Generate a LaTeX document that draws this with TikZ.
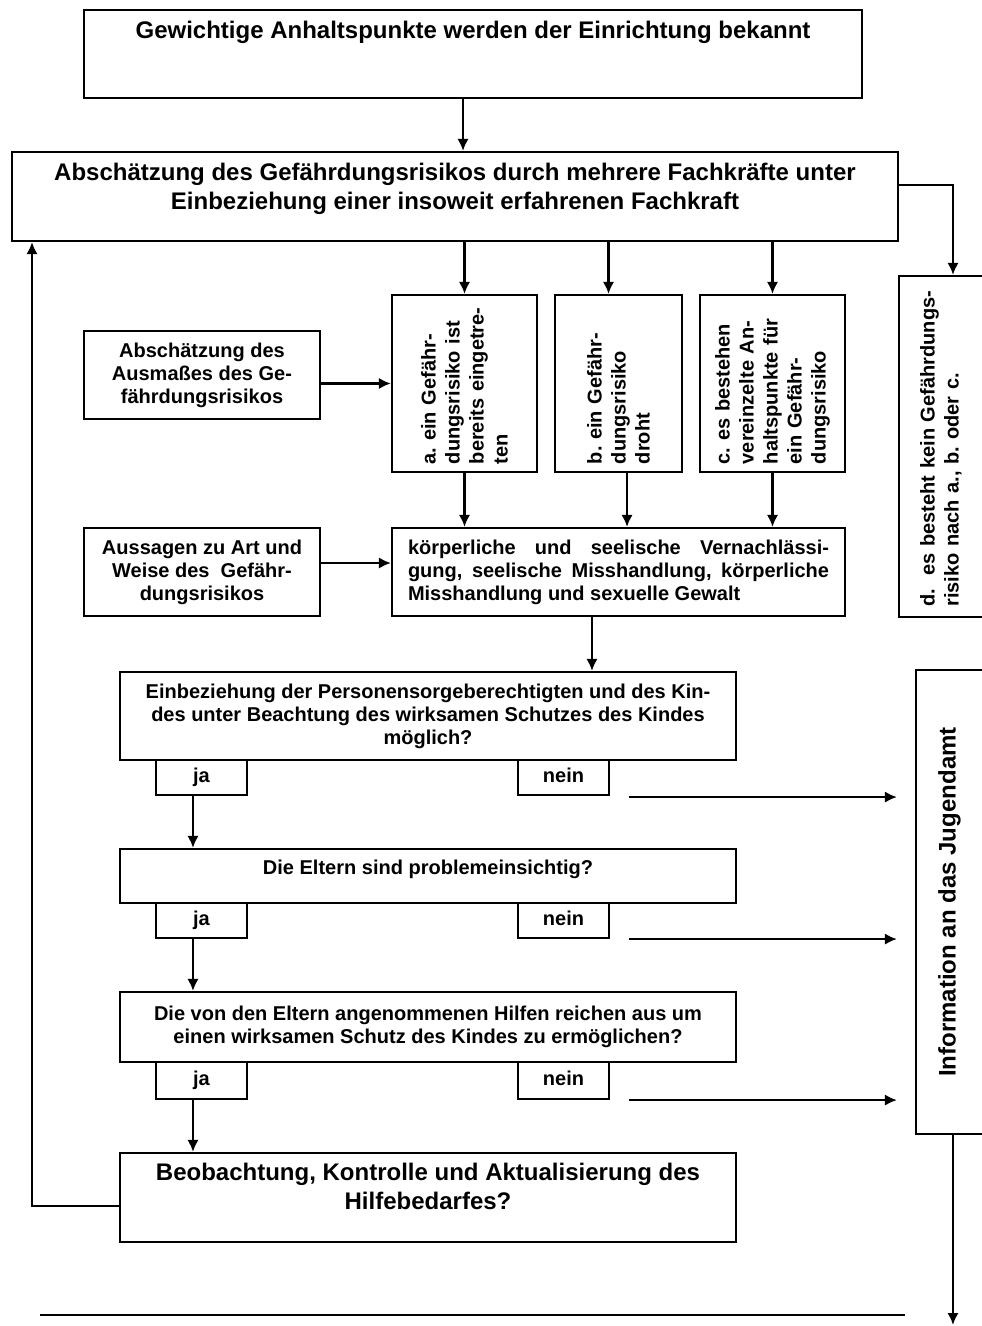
\documentclass[tikz,border=0pt]{standalone}
\usepackage{fontspec}
\setmainfont{Liberation Sans}
\usetikzlibrary{arrows.meta}
\frenchspacing
\newcommand{\bigfont}{\fontsize{18}{21.75}\selectfont\bfseries\hyphenpenalty=10000}
\newcommand{\midfont}{\fontsize{15}{17.25}\selectfont\bfseries\hyphenpenalty=10000}
\newcommand{\rotfont}{\fontsize{15}{18}\selectfont\bfseries\hyphenpenalty=10000}
\begin{document}
\begin{tikzpicture}[x=0.75pt,y=0.75pt]
\tikzstyle{every node}+=[inner sep=0pt]
\tikzstyle{box}=[draw=black, line width=1.6pt, align=center, font=\midfont]
\tikzstyle{vbox}=[box, rotate=90, align=left, font=\rotfont]
\tikzstyle{answer}=[box, minimum width=68.25pt, minimum height=26.25pt, text height=11pt, text depth=3.5pt]
\tikzstyle{arr}=[draw=black, line width=2pt, -{Latex[length=9pt,width=8.5pt]}]
\useasboundingbox (0,0) rectangle (981,-1326);
\node [box, font=\bigfont, minimum width=583.5pt, minimum height=66pt] (start) at (473,-54) {Gewichtige Anhaltspunkte werden der Einrichtung bekannt\\[15pt]\mbox{}};
\node [box, font=\bigfont, minimum width=664.5pt, minimum height=66.75pt] (risk) at (455,-196.5) {Absch\"atzung des Gef\"ahrdungsrisikos durch mehrere Fachkr\"afte unter\\Einbeziehung einer insoweit erfahrenen Fachkraft\\[-5.75pt]\mbox{}};
\node [vbox, minimum width=132.75pt, minimum height=108.75pt, text width=121pt] (abox) at (464.5,-383.5) {a. ein Gef\"ahr-\\dungsrisiko ist\\bereits eingetre-\\ten};
\node [vbox, minimum width=132.75pt, minimum height=95.25pt, text width=121pt] (bbox) at (618.5,-383.5) {b. ein Gef\"ahr-\\dungsrisiko\\droht};
\node [vbox, minimum width=132.75pt, minimum height=108.75pt, text width=121pt] (cbox) at (772.5,-383.5) {c. es bestehen\\vereinzelte An-\\haltspunkte f\"ur\\ein Gef\"ahr-\\dungsrisiko};
\node [vbox, minimum width=255.75pt, minimum height=63pt, text width=240pt] (dbox) at (941,-446.5) {d.\ \ es besteht kein Gef\"ahrdungs-\\risiko nach a., b. oder c.};
\node [box, minimum width=177pt, minimum height=66pt] (ausmass) at (202,-375) {Absch\"atzung des\\Ausma\ss es des Ge-\\f\"ahrdungsrisikos};
\node [box, minimum width=177pt, minimum height=66pt] (art) at (202,-572) {Aussagen zu Art und\\Weise des\ \ Gef\"ahr-\\dungsrisikos};
\node [box, align=justify, text width=315.75pt, minimum width=339.75pt, minimum height=66pt] (kv) at (618.5,-572) {k\"orperliche und seelische Vernachl\"assi-\linebreak gung, seelische Misshandlung, k\"orperliche\linebreak Misshandlung und sexuelle Gewalt};
\node [box, minimum width=462pt, minimum height=66pt] (einb) at (428,-716) {Einbeziehung der Personensorgeberechtigten und des Kin-\\des unter Beachtung des wirksamen Schutzes des Kindes\\m\"oglich?};
\node [answer] (ja1) at (201.5,-777.5) {ja};
\node [answer] (nein1) at (563.5,-777.5) {nein};
\node [box, minimum width=462pt, minimum height=40.5pt] (eltern) at (428,-876) {Die Eltern sind problemeinsichtig?\\[-4.25pt]\mbox{}};
\node [answer] (ja2) at (201.5,-920.5) {ja};
\node [answer] (nein2) at (563.5,-920.5) {nein};
\node [box, minimum width=462pt, minimum height=52.5pt] (hilfen) at (428,-1027) {Die von den Eltern angenommenen Hilfen reichen aus um\\einen wirksamen Schutz des Kindes zu erm\"oglichen?};
\node [answer, minimum height=27.75pt] (ja3) at (201.5,-1080.5) {ja};
\node [answer, minimum height=27.75pt] (nein3) at (563.5,-1080.5) {nein};
\node [box, font=\bigfont, minimum width=462pt, minimum height=66.75pt] (beob) at (428,-1197.5) {Beobachtung, Kontrolle und Aktualisierung des\\Hilfebedarfes?\\[-5pt]\mbox{}};
\node [box, rotate=90, font=\bigfont, minimum width=348pt, minimum height=50.25pt] (info) at (949.5,-902) {Information an das Jugendamt};
\coordinate (s1) at ([xshift=-7.5pt]start.south);
\draw [arr] (s1) -- (s1 |- risk.north);
\draw [arr] (risk.south -| abox.east) -- (abox.east);
\coordinate (bin) at ([xshift=-7.5pt]bbox.east);
\draw [arr] (risk.south -| bin) -- (bin);
\draw [arr] (risk.south -| cbox.east) -- (cbox.east);
\coordinate (dout) at ([yshift=8.6pt]risk.east);
\coordinate (din) at ([xshift=9pt]dbox.east);
\draw [arr] (dout) -| (din);
\draw [arr] (ausmass.east |- abox.north) -- (abox.north);
\coordinate (artout) at ([yshift=6.75pt]art.east);
\draw [arr] (artout) -- (artout -| kv.west);
\draw [arr] (abox.west) -- (abox.west |- kv.north);
\coordinate (bout) at ([xshift=6.4pt]bbox.west);
\draw [arr] (bout) -- (bout |- kv.north);
\draw [arr] (cbox.west) -- (cbox.west |- kv.north);
\coordinate (kvout) at ([xshift=-19.9pt]kv.south);
\draw [arr] (kvout) -- (kvout |- einb.north);
\coordinate (ja1out) at ([xshift=-6.4pt]ja1.south);
\draw [arr] (ja1out) -- (ja1out |- eltern.north);
\coordinate (ja2out) at ([xshift=-6.4pt]ja2.south);
\draw [arr] (ja2out) -- (ja2out |- hilfen.north);
\coordinate (ja3out) at ([xshift=-6.4pt]ja3.south);
\draw [arr] (ja3out) -- (ja3out |- beob.north);
\coordinate (n1out) at ([xshift=14.25pt,yshift=-0.75pt]nein1.south east);
\draw [arr, shorten >=13.5pt] (n1out) -- (info.north |- n1out);
\coordinate (n2out) at ([xshift=14.25pt]nein2.south east);
\draw [arr, shorten >=13.5pt] (n2out) -- (info.north |- n2out);
\coordinate (n3out) at ([xshift=14.25pt]nein3.south east);
\draw [arr, shorten >=13.5pt] (n3out) -- (info.north |- n3out);
\coordinate (loop) at (32,0);
\draw [arr] ([yshift=-6.4pt]beob.west) -| (loop |- risk.south);
\coordinate (infoout) at ([xshift=2.6pt]info.west);
\coordinate (bottomend) at (953,-1325);
\draw [arr] (infoout) -- (infoout |- bottomend);
\draw [black, line width=1.2pt] (40,-1315) -- (905,-1315);
\end{tikzpicture}
\end{document}
